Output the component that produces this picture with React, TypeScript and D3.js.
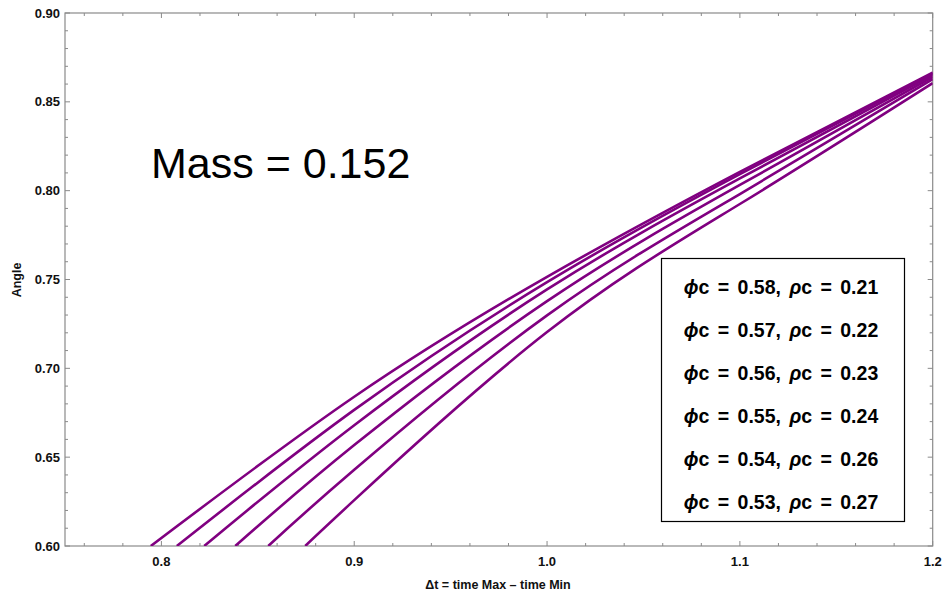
import React from "react";
import * as d3 from "d3";

const W = 945;
const H = 596;

// Series: x positions and y values
const xs1 = [0.7945, 0.9, 1.0, 1.1, 1.2];
const ys1 = [0.6, 0.684, 0.7515, 0.8106, 0.8665];
const xs2 = [0.808, 0.9, 1.0, 1.1, 1.2];
const ys2 = [0.6, 0.6766, 0.7485, 0.8093, 0.866];
const xs3 = [0.8222, 0.9, 1.0, 1.1, 1.2];
const ys3 = [0.6, 0.668, 0.7444, 0.8069, 0.8652];
const xs4 = [0.8383, 0.9, 1.0, 1.1, 1.2];
const ys4 = [0.6, 0.6568, 0.7378, 0.8032, 0.864];
const xs5 = [0.8554, 0.9, 1.0, 1.1, 1.2];
const ys5 = [0.6, 0.6429, 0.7298, 0.7981, 0.8628];
const xs6 = [0.8746, 0.9, 1.0, 1.1, 1.2];
const ys6 = [0.6, 0.6258, 0.7204, 0.7925, 0.8605];

const seriesX = [xs1, xs2, xs3, xs4, xs5, xs6];
const seriesY = [ys1, ys2, ys3, ys4, ys5, ys6];

const phiValues = ["0.58", "0.57", "0.56", "0.55", "0.54", "0.53"];
const rhoValues = ["0.21", "0.22", "0.23", "0.24", "0.26", "0.27"];

const xMajorTicks = [0.8, 0.9, 1.0, 1.1, 1.2];
const yMajorTicks = [0.6, 0.65, 0.7, 0.75, 0.8, 0.85, 0.9];

const FONT = "'Liberation Sans', Arial, sans-serif";

export default function App() {
  const left = 65;
  const right = 932.7;
  const top = 13;
  const bottom = 546;

  const x = d3.scaleLinear().domain([0.75, 1.2]).range([left, right]);
  const y = d3.scaleLinear().domain([0.6, 0.9]).range([bottom, top]);

  const line = d3
    .line<[number, number]>()
    .x((d) => x(d[0]))
    .y((d) => y(d[1]))
    .curve(d3.curveNatural);

  const xMinor = d3.range(0.76, 1.2, 0.02).filter((v) => !xMajorTicks.some((m) => Math.abs(m - v) < 1e-6));
  const yMinor = d3.range(0.61, 0.9, 0.01).filter((v) => !yMajorTicks.some((m) => Math.abs(m - v) < 1e-6));

  const frameColor = "#8a8a8a";
  const major = 5;
  const minor = 3;

  return (
    <svg width={W} height={H} style={{ position: "absolute", left: 0, top: 0, background: "#fff" }}>
      <defs>
        <clipPath id="plotclip">
          <rect x={left} y={top} width={right - left} height={bottom - top} />
        </clipPath>
      </defs>
      {/* frame */}
      <rect x={left} y={top} width={right - left} height={bottom - top} fill="none" stroke={frameColor} strokeWidth={1.2} />
      {/* x ticks bottom & top */}
      {xMajorTicks.map((v) => (
        <g key={"xm" + v}>
          <line x1={x(v)} x2={x(v)} y1={bottom} y2={bottom - major} stroke={frameColor} />
          <line x1={x(v)} x2={x(v)} y1={top} y2={top + major} stroke={frameColor} />
          <text x={x(v)} y={566} textAnchor="middle" fontFamily={FONT} fontWeight="bold" fontSize={13} fill="#111">
            {d3.format(".1f")(v)}
          </text>
        </g>
      ))}
      {xMinor.map((v) => (
        <g key={"xn" + v}>
          <line x1={x(v)} x2={x(v)} y1={bottom} y2={bottom - minor} stroke={frameColor} />
          <line x1={x(v)} x2={x(v)} y1={top} y2={top + minor} stroke={frameColor} />
        </g>
      ))}
      {/* y ticks left & right */}
      {yMajorTicks.map((v) => (
        <g key={"ym" + v}>
          <line x1={left} x2={left + major} y1={y(v)} y2={y(v)} stroke={frameColor} />
          <line x1={right} x2={right - major} y1={y(v)} y2={y(v)} stroke={frameColor} />
          <text x={60} y={y(v) + 4.5} textAnchor="end" fontFamily={FONT} fontWeight="bold" fontSize={13} fill="#111">
            {d3.format(".2f")(v)}
          </text>
        </g>
      ))}
      {yMinor.map((v) => (
        <g key={"yn" + v}>
          <line x1={left} x2={left + minor} y1={y(v)} y2={y(v)} stroke={frameColor} />
          <line x1={right} x2={right - minor} y1={y(v)} y2={y(v)} stroke={frameColor} />
        </g>
      ))}
      {/* curves */}
      <g clipPath="url(#plotclip)">
        {seriesX.map((xsArr, i) => (
          <path
            key={"s" + i}
            d={line(xsArr.map((xv, j) => [xv, seriesY[i][j]] as [number, number])) || ""}
            fill="none"
            stroke="#800080"
            strokeWidth={2.6}
          />
        ))}
      </g>
      {/* axis labels */}
      <text x={498} y={589} textAnchor="middle" fontFamily={FONT} fontWeight="bold" fontSize={12.5} fill="#111">
        Δt = time Max – time Min
      </text>
      <text
        transform={`translate(21, ${280}) rotate(-90)`}
        textAnchor="middle"
        fontFamily={FONT}
        fontWeight="bold"
        fontSize={12.5}
        fill="#111"
      >
        Angle
      </text>
      {/* annotation */}
      <text x={151} y={178} fontFamily={FONT} fontSize={43} fill="#000">
        Mass = 0.152
      </text>
      {/* legend box */}
      <rect x={661.5} y={258.5} width={243} height={263} fill="#fff" stroke="#000" strokeWidth={1.2} />
      {phiValues.map((p, i) => (
        <text
          key={"lg" + i}
          x={781}
          y={293.5 + i * 43}
          textAnchor="middle"
          fontFamily={FONT}
          fontWeight="bold"
          fontSize={19.5}
          fill="#000"
          style={{ wordSpacing: "3px" }}
        >
          <tspan fontStyle="italic">ϕ</tspan>
          {"c = " + p + ", "}
          <tspan fontStyle="italic">ρ</tspan>
          {"c = " + rhoValues[i]}
        </text>
      ))}
    </svg>
  );
}
